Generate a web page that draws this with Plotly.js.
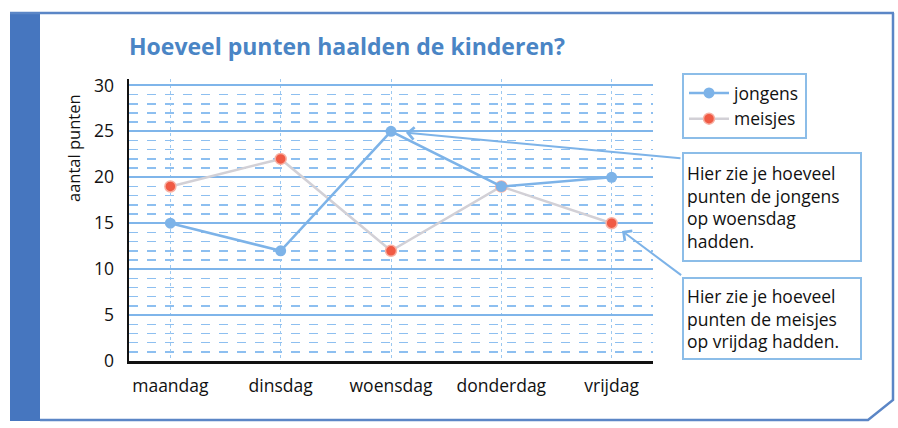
<!DOCTYPE html>
<html>
<head>
<meta charset="utf-8">
<script src="https://cdn.plot.ly/plotly-3.0.1.min.js"></script>
<style>html,body{margin:0;padding:0;background:#fff;}#chart{width:898px;height:428px;}</style>
</head>
<body>
<div id="chart"></div>
<script>
// ---- data ----
const days = ["maandag", "dinsdag", "woensdag", "donderdag", "vrijdag"];
const jongens = [15, 12, 25, 19, 20];
const meisjes = [19, 22, 12, 19, 15];
const seriesNames = ["jongens", "meisjes"];
const yTicks = [0, 5, 10, 15, 20, 25, 30];
const titleText = "Hoeveel punten haalden de kinderen?";
const yTitleText = "aantal punten";
const note1 = "Hier zie je hoeveel<br>punten de jongens<br>op woensdag<br>hadden.";
const note2 = "Hier zie je hoeveel<br>punten de meisjes<br>op vrijdag hadden.";

// plot area in pixels (for converting frame decoration positions)
const L = 129, R = 653, T = 79, B = 361, W = 898, H = 428;
const px = v => (v - L) / (R - L);
const py = v => (B - v) / (B - T);

const FONT = "'Open Sans', Lato, sans-serif";
const lightBlue = "#7fb5ea";
const frameBlue = "#5b86c6";

const traces = [
  {
    type: "scatter", mode: "lines+markers", name: seriesNames[1],
    x: days, y: meisjes,
    line: {color: "#d2d0d6", width: 2.5},
    marker: {color: "#f05a44", size: 11, line: {color: "#f7b0a3", width: 1.5}}
  },
  {
    type: "scatter", mode: "lines+markers", name: seriesNames[0],
    x: days, y: jongens,
    line: {color: "#7db3e8", width: 2.5},
    marker: {color: "#7db3e8", size: 11}
  }
];

const layout = {
  width: W, height: H,
  margin: {l: L, r: W - R, t: T, b: H - B, pad: 0},
  paper_bgcolor: "#ffffff",
  plot_bgcolor: "#ffffff",
  showlegend: true,
  font: {family: FONT, size: 17, color: "#111"},
  title: {
    text: titleText,
    font: {family: FONT, size: 23, color: "#4a85c5", weight: "bold"},
    xref: "paper", x: 0, xanchor: "left",
    yref: "container", y: 1 - 47 / H, yanchor: "middle"
  },
  xaxis: {
    type: "category",
    range: [-0.375, 4.375],
    showline: true, linecolor: "#111", linewidth: 2.5,
    showgrid: true, gridcolor: "#9cc8f0", gridwidth: 1, griddash: "dot",
    ticks: "", ticklabelstandoff: 7,
    tickfont: {family: FONT, size: 17.5, color: "#111"},
    zeroline: false, fixedrange: true
  },
  yaxis: {
    range: [0, 30.7],
    tickvals: yTicks,
    showline: true, linecolor: "#111", linewidth: 2.5,
    showgrid: true, gridcolor: lightBlue, gridwidth: 2,
    minor: {dtick: 1, showgrid: true, gridcolor: "#8dbff0", gridwidth: 1.5, griddash: "dash", ticks: ""},
    ticks: "", ticklabelstandoff: 9,
    tickfont: {family: FONT, size: 17.5, color: "#111"},
    zeroline: false, fixedrange: true
  },
  legend: {
    x: px(682), y: py(73), xanchor: "left", yanchor: "top",
    bordercolor: "#8cbde8", borderwidth: 2,
    bgcolor: "#ffffff",
    font: {family: FONT, size: 17.5, color: "#111"},
    traceorder: "reversed",
    itemwidth: 40
  },
  shapes: [
    // thick left bar
    {type: "rect", xref: "paper", yref: "paper", x0: px(10), x1: px(40), y0: py(421), y1: py(12),
     fillcolor: "#4676bf", line: {width: 0}, layer: "below"},
    // top line
    {type: "line", xref: "paper", yref: "paper", x0: px(10), x1: px(894), y0: py(13), y1: py(13),
     line: {color: frameBlue, width: 2.5}},
    // right + bottom with cut corner
    {type: "path", xref: "paper", yref: "paper",
     path: "M " + px(893) + " " + py(13) + " L " + px(893) + " " + py(400) +
           " L " + px(868) + " " + py(420) + " L " + px(40) + " " + py(420),
     line: {color: frameBlue, width: 2.5}}
  ],
  annotations: [
    {text: yTitleText, textangle: -90, xref: "paper", yref: "paper",
     x: px(73), y: py(148), xanchor: "center", yanchor: "middle", showarrow: false,
     font: {family: FONT, size: 16.5, color: "#111"}},
    {text: note1, xref: "paper", yref: "paper", x: px(682), y: py(152),
     xanchor: "left", yanchor: "top", align: "left", valign: "middle", showarrow: false,
     bordercolor: "#8cbde8", borderwidth: 2, borderpad: 3, bgcolor: "#ffffff",
     width: 170, height: 100,
     font: {family: FONT, size: 17.5, color: "#111"}},
    {text: note2, xref: "paper", yref: "paper", x: px(682), y: py(277),
     xanchor: "left", yanchor: "top", align: "left", valign: "middle", showarrow: false,
     bordercolor: "#8cbde8", borderwidth: 2, borderpad: 3, bgcolor: "#ffffff",
     width: 170, height: 73,
     font: {family: FONT, size: 17.5, color: "#111"}},
    {text: "", x: days[2], y: jongens[2], xref: "x", yref: "y",
     showarrow: true, arrowhead: 4, arrowsize: 1.2, arrowwidth: 2, arrowcolor: "#7db3e8",
     ax: 682 - 391, ay: 158 - 131, axref: "pixel", ayref: "pixel", standoff: 15},
    {text: "", x: days[4], y: meisjes[4], xref: "x", yref: "y",
     showarrow: true, arrowhead: 4, arrowsize: 1.2, arrowwidth: 2, arrowcolor: "#7db3e8",
     ax: 682 - 611, ay: 277 - 224, axref: "pixel", ayref: "pixel", standoff: 13}
  ]
};

Plotly.newPlot("chart", traces, layout, {displayModeBar: false, staticPlot: true});
</script>
</body>
</html>
